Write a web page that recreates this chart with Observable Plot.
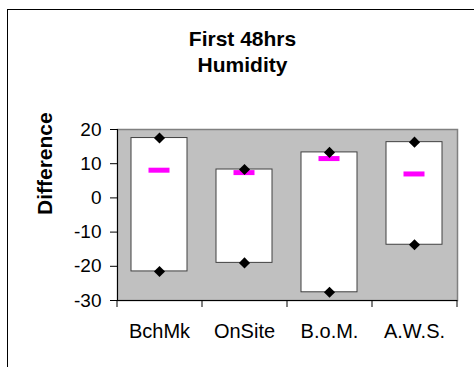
<!DOCTYPE html>
<html>
<head>
<meta charset="utf-8">
<script src="https://cdn.jsdelivr.net/npm/d3@7"></script>
<script src="https://cdn.jsdelivr.net/npm/@observablehq/plot@0.6"></script>
<style>
  body { margin: 0; background: #fff; font-family: Arial, "Liberation Sans", sans-serif; }
  #chart { position: relative; width: 474px; height: 367px; overflow: hidden; }
  #chart svg { position: absolute; left: 0; top: 0; }
  #border { position: absolute; left: 7px; top: 9px; right: -4px; bottom: -4px;
            border-left: 1px solid #000; border-top: 1px solid #000; pointer-events: none; }
</style>
</head>
<body>
<div id="chart"><div id="border"></div></div>
<script>
// Humidity difference per source over the first 48 hours
const stations = ["BchMk", "OnSite", "B.o.M.", "A.W.S."];
const maxDiff  = [17.5, 8.3, 13.3, 16.3];
const minDiff  = [-21.5, -19.0, -27.6, -13.7];
const meanDiff = [8.1, 7.4, 11.5, 7.0];
const yTicks   = [20, 10, 0, -10, -20, -30];
const titleLines = ["First 48hrs", "Humidity"];
const yLabel = "Difference";

const data = stations.map((station, i) => ({
  station, max: maxDiff[i], min: minDiff[i], mean: meanDiff[i]
}));

const W = 474, H = 367;
const mL = 117, mR = 17, mT = 129, mB = 67;
const step = (W - mL - mR) / stations.length;

const chart = Plot.plot({
  width: W, height: H,
  marginLeft: mL, marginRight: mR, marginTop: mT, marginBottom: mB,
  style: { fontFamily: "Arial, 'Liberation Sans', sans-serif", background: "transparent", color: "#000", fontSize: "19px" },
  x: { domain: stations, paddingInner: 0.34, paddingOuter: 0.17, axis: null },
  y: { domain: [-30, 20], axis: null },
  marks: [
    // plot area
    Plot.frame({ fill: "#c0c0c0", stroke: "#808080", strokeWidth: 1.5 }),
    Plot.frame({ anchor: "left", stroke: "#000" }),
    Plot.ruleY([-30], { stroke: "#000" }),
    // y axis
    Plot.axisY({ ticks: yTicks, tickSize: 7, tickPadding: 9, fontSize: 19, stroke: "#000", label: null, tickFormat: d => String(d) }),
    // x axis: ticks at category boundaries, labels at centres
    Plot.axisX({ ticks: stations, tickSize: 7, tickFormat: () => "", dx: -step / 2, stroke: "#000", label: null }),
    Plot.axisX({ ticks: [stations[stations.length - 1]], tickSize: 7, tickFormat: () => "", dx: step / 2, stroke: "#000", label: null }),
    Plot.axisX({ ticks: stations, tickSize: 0, tickPadding: 23, fontSize: 20, label: null }),
    // range boxes
    Plot.barY(data, { x: "station", y1: "min", y2: "max", fill: "#fff", stroke: "#404040", strokeWidth: 1 }),
    // mean markers
    Plot.tickY(data, { x: "station", y: "mean", stroke: "#ff00ff", strokeWidth: 5, insetLeft: 17.5, insetRight: 17.5 }),
    // max / min markers
    Plot.dot(data, { x: "station", y: "max", symbol: "diamond2", r: 5, fill: "#000", stroke: "none" }),
    Plot.dot(data, { x: "station", y: "min", symbol: "diamond2", r: 5, fill: "#000", stroke: "none" }),
    // titles
    Plot.text([titleLines.join("\n")], { frameAnchor: "top", dx: -45, dy: -79, lineAnchor: "middle", lineHeight: 1.24, fontSize: 21, fontWeight: "bold" }),
    Plot.text([yLabel], { frameAnchor: "left", dx: -72, rotate: -90, fontSize: 21, fontWeight: "bold" })
  ]
});

document.getElementById("chart").prepend(chart);
</script>
</body>
</html>
